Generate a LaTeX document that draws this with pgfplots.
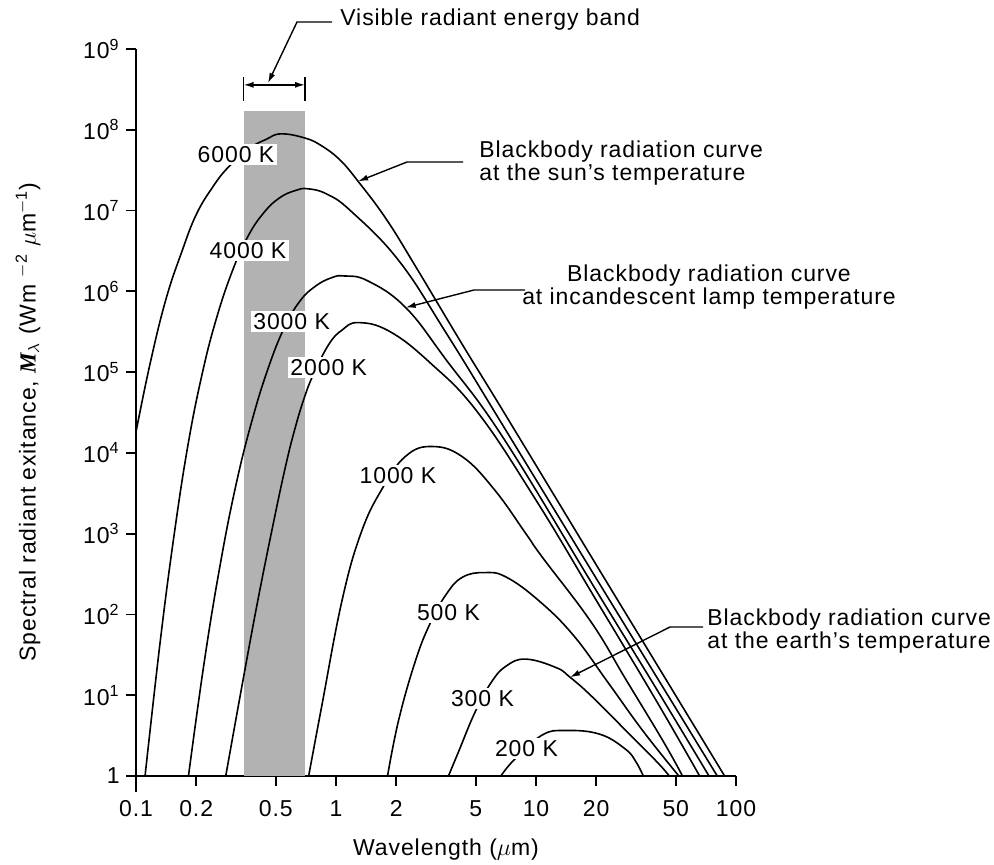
\documentclass[border=0pt]{standalone}
\usepackage{fontspec}
\setmainfont{Liberation Sans}[LetterSpace=4]
\newfontfamily\serifbi{Liberation Serif}
\usepackage{pgfplots}
\pgfplotsset{compat=1.18}
\usetikzlibrary{arrows.meta}
\begin{document}
\fontsize{11.5}{11.5}\selectfont
\begin{tikzpicture}[font=\fontsize{11.5}{11.5}\selectfont,
  lab/.style={fill=white, inner sep=1.2pt},
  ann/.style={inner sep=0pt},
  ptr/.style={line width=0.7pt, -{Latex[length=5pt,width=3pt]}}]
\path[use as bounding box] (-68pt,-44pt) rectangle (429pt,388pt);
\begin{axis}[
  at={(0pt,0pt)}, anchor=south west,
  scale only axis, width=300pt, height=363.5pt,
  xmode=log, ymode=log,
  xmin=0.1, xmax=100, ymin=1, ymax=1e9,
  axis lines*=left,
  axis line style={line width=0.9pt, black},
  tick align=outside, major tick length=5pt,
  tick style={line width=0.9pt, black},
  xminorticks=false, yminorticks=false,
  xtick={0.1,0.2,0.5,1,2,5,10,20,50,100},
  xticklabels={0.1,0.2,0.5,1,2,5,10,20,50,100},
  extra x ticks={0.1}, extra x tick labels={},
  extra x tick style={major tick length=8pt},
  ytick={1,10,100,1000,1e4,1e5,1e6,1e7,1e8,1e9},
  yticklabels={1,10\textsuperscript{1},10\textsuperscript{2},10\textsuperscript{3},10\textsuperscript{4},10\textsuperscript{5},10\textsuperscript{6},10\textsuperscript{7},10\textsuperscript{8},10\textsuperscript{9}},
  xticklabel style={anchor=north, inner sep=0pt, yshift=-7pt, font=\fontsize{11.5}{11.5}\selectfont},
  yticklabel style={anchor=east, inner sep=0pt, xshift=-3pt, font=\fontsize{11.5}{11.5}\selectfont},
  curve/.style={black, line width=0.8pt, smooth, tension=0.7, mark=none},
]
% visible band
\addplot[draw=none, fill=black!30] coordinates {(0.345,1) (0.345,1.7e8) (0.70,1.7e8) (0.70,1)} -- cycle;
% 6000 K
\addplot[curve] coordinates {(0.1,1.82e4) (0.1175,1.26e5) (0.141,7.9e5) (0.17,3.16e6) (0.2,8.9e6) (0.24,1.9e7) (0.288,3.4e7) (0.37,5.9e7) (0.447,7.6e7) (0.53,8.9e7) (0.7,7.9e7) (0.85,6.3e7) (1.05,4.2e7) (1.29,2.3e7) (1.78,7.9e6) (2.48,2.1e6) (4.28,2.2e5) (6.9,3.2e4) (20,412) (40,24.5) (87.7,1)};
% 4000 K
\addplot[curve] coordinates {(0.111,1) (0.132,45) (0.155,955) (0.182,1.26e4) (0.214,9.4e4) (0.251,4.4e5) (0.302,1.74e6) (0.363,4.8e6) (0.437,9.5e6) (0.525,1.45e7) (0.631,1.78e7) (0.724,1.86e7) (0.9,1.6e7) (1.19,9.8e6) (2.06,2.4e6) (3.57,3.0e5) (6.9,2.1e4) (20,280) (40,17) (80.6,1)};
% 3000 K
\addplot[curve] coordinates {(0.183,1) (0.219,25) (0.263,400) (0.316,4.0e3) (0.38,2.5e4) (0.457,1.1e5) (0.55,3.5e5) (0.661,7.6e5) (0.794,1.17e6) (0.955,1.48e6) (1.1,1.55e6) (1.44,1.35e6) (2.23,6.3e5) (3.57,1.4e5) (6.9,1.5e4) (20,198) (40,12) (73.3,1)};
% 2000 K
\addplot[curve] coordinates {(0.281,1) (0.339,13.2) (0.407,151) (0.49,1.48e3) (0.56,6.9e3) (0.62,1.9e4) (0.69,4.6e4) (0.77,9.3e4) (0.92,2.2e5) (1.07,3.3e5) (1.29,4.1e5) (1.85,3.2e5) (2.96,1.3e5) (5.1,3.2e4) (10,2.6e3) (20,150) (40,8.5) (65.8,1)};
% 1000 K
\addplot[curve] coordinates {(0.73,1) (0.85,7.5) (1.07,146) (1.33,1.0e3) (1.69,3.5e3) (2.23,9.1e3) (3.03,1.2e4) (4.3,8.9e3) (6.2,3.5e3) (8.9,1.0e3) (10.7,520) (18.9,80) (28,16) (43.6,2.6) (54,1)};
% 500 K
\addplot[curve] coordinates {(1.81,1) (2.06,5) (2.5,27) (2.96,78) (3.57,180) (4.3,290) (5.53,330) (7.1,290) (10.4,146) (15.4,55) (22.9,14.4) (34.3,3.6) (51.8,1)};
% 300 K
\addplot[curve] coordinates {(3.65,1) (4.1,2.0) (4.96,6.2) (5.97,14.4) (7.1,23) (8.9,28) (12.6,22) (14.8,16.7) (18.9,9.8) (28,3.7) (40.2,1.5) (46.4,1)};
% 200 K
\addplot[curve] coordinates {(6.67,1) (7.8,1.6) (10.7,3.2) (14,3.66) (20.8,3.3) (28,2.15) (31.6,1.5) (34.4,1)};
% anchors
\coordinate (L6000) at (axis cs:0.316,4.9e7);
\coordinate (L4000) at (axis cs:0.363,3.2e6);
\coordinate (L3000) at (axis cs:0.60,4.2e5);
\coordinate (L2000) at (axis cs:0.92,1.15e5);
\coordinate (L1000) at (axis cs:2.04,5.2e3);
\coordinate (L500) at (axis cs:3.65,106);
\coordinate (L300) at (axis cs:5.4,9.2);
\coordinate (L200) at (axis cs:8.96,2.2);
\coordinate (bA1) at (axis cs:0.345,2.3e8);
\coordinate (bA2) at (axis cs:0.345,4.5e8);
\coordinate (bB1) at (axis cs:0.70,2.3e8);
\coordinate (bB2) at (axis cs:0.70,4.5e8);
\coordinate (bAm) at (axis cs:0.345,3.6e8);
\coordinate (bBm) at (axis cs:0.70,3.6e8);
\coordinate (sunTip) at (axis cs:1.29,2.3e7);
\coordinate (lampTip) at (axis cs:2.23,6.3e5);
\coordinate (earthTip) at (axis cs:14.8,16.7);
\end{axis}
% curve labels
\node[lab] at (L6000) {6000 K};
\node[lab] at (L4000) {4000 K};
\node[lab] at (L3000) {3000 K};
\node[lab] at (L2000) {2000 K};
\node[lab] at (L1000) {1000 K};
\node[lab] at (L500) {500 K};
\node[lab] at (L300) {300 K};
\node[lab] at (L200) {200 K};
% visible band bracket
\draw[line width=0.7pt] (bA1) -- (bA2);
\draw[line width=0.7pt] (bB1) -- (bB2);
\draw[line width=0.7pt, {Latex[length=5pt,width=3pt]}-{Latex[length=5pt,width=3pt]}] (bAm) -- (bBm);
\node[ann, anchor=west] at (102pt,378pt) {Visible radiant energy band};
\draw[ptr] (98pt,377pt) -- (80.5pt,377pt) -- (66pt,346.5pt);
% sun
\node[ann, anchor=west, align=left] at (171.5pt,306.25pt) {Blackbody radiation curve\\at the sun's temperature};
\draw[ptr] (163.5pt,307pt) -- (135.5pt,307pt) -- (sunTip);
% lamp
\node[ann, align=center] at (286.5pt,244.5pt) {Blackbody radiation curve\\at incandescent lamp temperature};
\draw[ptr] (194.5pt,243pt) -- (169pt,243pt) -- (lampTip);
% earth
\node[ann, anchor=west, align=left] at (285.5pt,72.25pt) {Blackbody radiation curve\\at the earth's temperature};
\draw[ptr] (283.5pt,74.5pt) -- (267pt,74.5pt) -- (earthTip);
% axis labels
\node[rotate=90] at (-54pt,177pt) {Spectral radiant exitance, {\serifbi\bfseries\itshape M}\textsubscript{$\lambda$} (Wm \textsuperscript{$-$2} $\mu$m\textsuperscript{$-$1})};
\node at (155pt,-37pt) {Wavelength ($\mu$m)};
\end{tikzpicture}
\end{document}
